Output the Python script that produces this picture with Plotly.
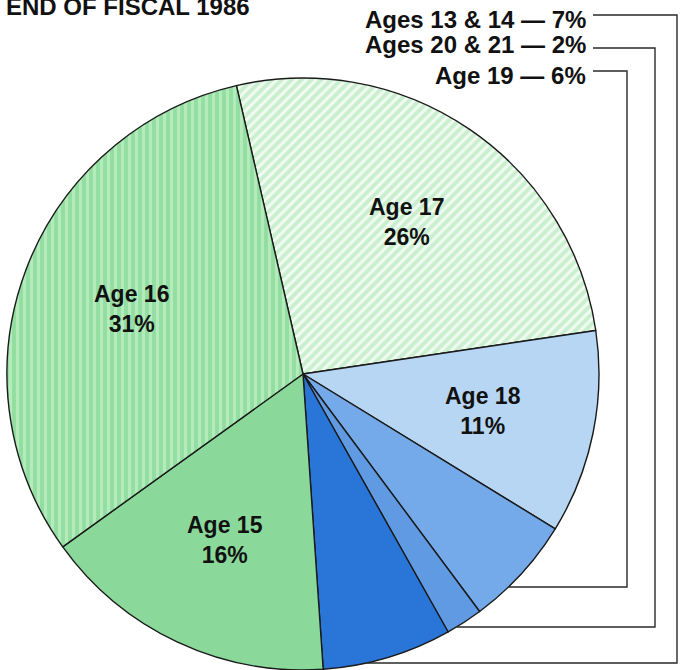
import numpy as np
import plotly.graph_objects as go

# ---- data ----
labels = ["Age 17", "Age 18", "Age 19", "Ages 20 & 21", "Ages 13 & 14", "Age 15", "Age 16"]
values = [26, 11, 6, 2, 7, 16, 31]
inside_labels = ["Age 17", "Age 18", "", "", "", "Age 15", "Age 16"]
outside_labels = ["Ages 13 & 14 — 7%", "Ages 20 & 21 — 2%", "Age 19 — 6%"]
title_text = "END OF FISCAL 1986"

colors = ["#c9efce", "#b6d6f3", "#74a9ea", "#5f9ae2", "#2a76d8", "#8ad99a", "#92dea0"]
pattern_fg = ["#f0fbf1", "#b6d6f3", "#74a9ea", "#5f9ae2", "#2a76d8", "#8ad99a", "#b4eabc"]
patterns = ["/", "", "", "", "", "", "|"]

W, H = 680, 670
FONT = "Liberation Sans, Arial, Helvetica, sans-serif"
ROT = -13  # start angle of first slice (degrees, clockwise from 12 o'clock)

# pie placement in pixels (top-left origin)
pie_top = 78
R = (H - pie_top) / 2.0
CX, CY = 303.0, pie_top + R


def px(x):
    return x / W


def py(y):
    return 1 - y / H


fig = go.Figure()
fig.add_trace(go.Pie(
    labels=labels,
    values=values,
    textinfo="none",
    sort=False,
    direction="clockwise",
    rotation=ROT,
    marker=dict(
        colors=colors,
        line=dict(color="#1a1a1a", width=1.4),
        pattern=dict(shape=patterns, fillmode="overlay", fgcolor=pattern_fg,
                     fgopacity=1.0, size=7, solidity=0.45),
    ),
    domain=dict(x=[px(CX - R), px(CX + R)], y=[0, py(pie_top)]),
    showlegend=False,
    hoverinfo="label+percent",
))

annotations = []
# inside labels placed along each slice's middle angle
vals = np.array(values, dtype=float)
cum = np.cumsum(vals) - vals / 2
mid_deg = ROT + cum / vals.sum() * 360.0
for name, v, ang in zip(inside_labels, values, mid_deg):
    if not name:
        continue
    a = np.deg2rad(ang)
    f = 0.62
    x = CX + f * R * np.sin(a)
    y = CY - f * R * np.cos(a)
    annotations.append(dict(text=f"{name}<br>{v}%", xref="paper", yref="paper",
                            x=px(x), y=py(y), xanchor="center", yanchor="middle",
                            showarrow=False, align="center",
                            font=dict(family=FONT, size=23, color="#111111", weight="bold")))

# outside labels + leader lines
label_y = [19, 45, 75]
line_top_y = [15, 48, 71]
line_vx = [677, 655, 627]
line_bottom_y = [663, 627, 587]
shapes = []
for t, ly, ty, vx, by in zip(outside_labels, label_y, line_top_y, line_vx, line_bottom_y):
    annotations.append(dict(text=t, xref="paper", yref="paper", x=px(588), y=py(ly),
                            xanchor="right", yanchor="middle", showarrow=False,
                            font=dict(family=FONT, size=24, color="#111111", weight="bold")))
    end_x = CX + np.sqrt(max(R ** 2 - (by - CY) ** 2, 0))
    pts = [(593, ty), (vx, ty), (vx, by), (end_x, by)]
    path = "M " + " L ".join(f"{px(x)},{py(y)}" for x, y in pts)
    shapes.append(dict(type="path", xref="paper", yref="paper", path=path,
                       line=dict(color="#2a2a2a", width=1.4), layer="above"))

annotations.append(dict(text=title_text, xref="paper", yref="paper", x=px(4), y=py(6.5),
                        xanchor="left", yanchor="middle", showarrow=False,
                        font=dict(family=FONT, size=24, color="#111111", weight="bold")))

fig.update_layout(
    width=W, height=H,
    margin=dict(l=0, r=0, t=0, b=0),
    paper_bgcolor="white",
    plot_bgcolor="white",
    shapes=shapes,
    annotations=annotations,
)

fig.write_html("out.html",
               config={"displayModeBar": False},
               post_script="document.body.style.margin='0px';document.body.style.overflow='hidden';")
